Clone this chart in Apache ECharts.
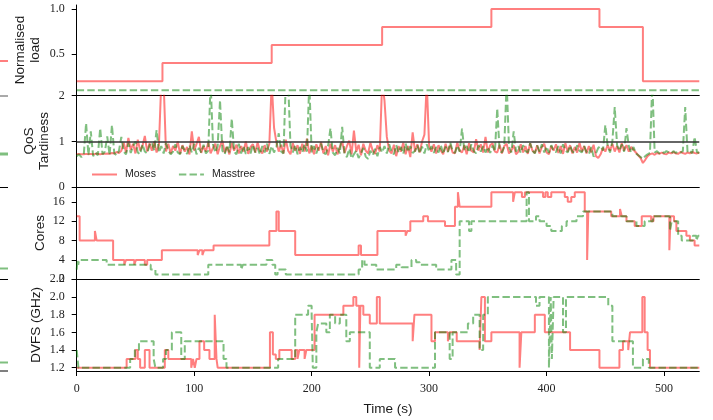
<!DOCTYPE html>
<html>
<head>
<meta charset="utf-8">
<title>Moses vs Masstree</title>
<script src="https://cdn.jsdelivr.net/npm/echarts@6.0.0/dist/echarts.min.js"></script>
<style>
  html, body { margin: 0; padding: 0; background: #fff; }
  #chart { width: 713px; height: 420px; }
</style>
</head>
<body>
<div id="chart"></div>
<script>
// time axis (s)
const timeMax = 530;
const timeTicks = [0, 100, 200, 300, 400, 500];

// normalised load, [t, value] steps
const mosesLoad = [[0, 0.2], [73, 0.4], [166, 0.6], [260, 0.8], [353, 1.0], [445, 0.8], [482, 0.2], [530, 0.2]];
const masstreeLoad = [[0, 0.1], [530, 0.1]];
const loadTicks = [0.5, 1.0];

// QoS tardiness, one sample every qosStep seconds
const qosStep = 2;
const mosesQos = [
  0.72, 0.73, 0.72, 0.72, 0.73, 0.72, 0.73, 0.72, 0.73, 0.73, 0.72, 0.73, 0.73, 0.74, 0.73, 0.75,
  0.74, 0.77, 0.75, 0.8, 0.98, 0.76, 1.08, 0.82, 0.95, 0.74, 1.04, 0.8, 0.9, 1.12, 0.78, 0.96, 0.8, 1.0, 0.76, 0.92,
  2.3, 2.3,
  0.78, 0.95, 0.74, 0.9, 0.8, 1.0, 0.73, 0.92, 0.78, 0.88, 0.72, 1.22, 0.8, 0.94, 1.1, 0.75, 0.9, 0.78, 0.98, 0.74,
  0.86, 0.95, 0.72, 0.9, 1.02, 0.76, 0.88, 0.72, 0.96, 0.8, 0.93, 0.74, 0.9, 0.78, 1.0, 0.73, 0.88, 0.94, 0.76, 0.98,
  0.8, 0.74, 0.92, 0.78, 0.95,
  2.3, 1.3,
  0.98, 0.78, 0.93, 0.74, 1.04, 0.8, 0.72, 0.96, 0.8, 0.92, 0.73, 0.95, 0.78, 1.06, 0.74, 0.9, 0.72, 0.94, 0.8, 0.99,
  0.74, 0.9, 0.7, 0.95, 0.78, 0.92, 0.72, 0.88, 1.0, 0.75, 0.9, 1.02, 0.72, 1.24, 0.78, 0.93, 0.7, 0.95, 0.8, 0.74,
  0.97, 0.8, 0.73, 0.92, 0.78,
  2.3, 1.9, 1.1,
  0.8, 0.74, 0.93, 0.68, 0.9, 0.78, 0.97, 0.72, 0.9, 0.66, 1.2, 0.78, 0.94, 0.76,
  1.0, 1.15, 2.3, 0.9,
  0.78, 0.94, 0.74, 0.92, 0.8, 0.72, 0.95, 0.78, 0.93, 0.76, 0.74, 0.98, 0.8, 0.76, 0.92, 0.72, 0.96, 0.8, 0.76, 1.05,
  0.8, 0.94, 0.76, 1.1, 0.76, 0.92,
  0.96, 0.78, 0.76, 0.93, 0.74, 0.9, 0.95, 0.74, 0.8, 0.92, 0.72, 0.78, 0.94, 0.76, 0.9, 0.73, 0.96, 0.8, 0.75, 0.92,
  0.74, 0.88, 0.95, 0.76, 0.72, 0.9, 0.8, 0.94, 0.75, 0.9, 0.73, 0.96, 0.78, 0.92, 0.74, 0.88, 0.76, 0.97, 0.78, 0.9,
  0.74, 0.9, 0.76, 0.93,
  0.68, 0.64, 0.72, 0.86, 0.78, 0.92, 0.8, 0.95, 0.78, 0.9, 0.76, 0.96, 0.8, 0.92, 0.78, 0.88, 0.82, 0.76, 0.7, 0.64,
  0.53, 0.6, 0.68, 0.72, 0.74, 0.71, 0.75, 0.73, 0.76, 0.73, 0.72, 0.76, 0.74, 0.77, 0.74, 0.73, 0.77, 0.75, 0.73, 0.76,
  0.74, 0.77, 0.75, 0.74, 0.76
];
const masstreeQos = [
  0.68, 0.72, 0.66, 0.71, 1.4, 0.7, 1.22, 0.68, 0.76, 0.7, 1.29, 0.72, 0.78, 1.11, 0.7, 1.36, 0.74, 0.7, 0.8, 1.1,
  0.78, 0.72, 0.96, 0.75, 0.9, 1.0, 0.76, 0.72, 0.94, 0.78, 0.74, 0.92, 0.98, 0.8, 1.25, 0.76,
  0.9, 0.74, 0.96, 0.8, 0.72, 0.78, 0.94, 0.76, 0.72, 0.9, 0.8, 0.73, 0.92, 0.76, 0.95, 0.72, 0.86, 0.76, 0.93, 0.74,
  0.8, 2.3, 0.94, 0.76, 0.9, 1.9, 0.8, 0.72, 0.92, 0.76, 1.5, 0.78, 0.72, 0.95, 0.74, 0.9, 0.73, 0.88, 0.74, 0.93,
  0.76, 0.86, 0.72, 0.9, 0.76, 0.95, 0.73, 0.9, 0.76, 0.88, 1.18, 0.78, 0.74,
  2.3, 2.3, 0.9, 0.76, 0.92, 0.72, 0.88, 0.76, 0.94, 0.78, 2.3, 0.76,
  0.9, 0.74, 0.88, 0.95, 0.76, 0.72, 0.9, 1.29, 0.76, 0.7, 0.86, 0.74, 1.32, 0.72, 0.66, 0.84, 0.63, 0.72, 0.8, 0.64,
  0.74, 0.86, 0.67, 0.62, 0.8, 0.7, 0.84, 0.68, 0.88,
  0.76, 0.9, 0.74, 0.94, 0.78, 0.72, 0.92, 0.76, 0.88, 0.73, 0.96, 0.77, 0.9, 0.75, 0.8, 0.92, 0.74, 0.89, 0.74, 0.94,
  0.78, 0.9, 0.75, 0.88, 0.76, 0.92, 0.73, 0.89, 0.77, 0.98, 0.79, 0.75, 0.91, 0.78, 1.28, 0.8,
  0.9, 0.76, 0.94, 0.79, 0.74, 0.92, 0.78, 0.9, 0.76, 0.88, 0.75, 0.91, 0.78,
  1.72, 0.8, 0.76, 0.9, 2.3, 0.88, 0.76, 1.22,
  0.78, 0.9, 0.75, 0.92, 0.79, 0.76, 0.96, 0.8, 0.74, 0.91, 0.78, 0.94, 0.76, 0.89, 0.75, 0.92, 0.79, 0.77, 0.9, 0.74,
  0.94, 0.8, 0.76, 0.91, 0.78, 0.75, 0.92, 0.8, 0.76, 0.9, 0.77, 0.72, 0.88, 0.67, 0.74, 0.86, 0.9,
  0.8, 1.36, 0.9, 0.76, 1.0, 1.75, 0.92, 0.8, 0.94, 0.78, 1.29, 0.9, 0.76, 0.88, 0.74, 0.7, 0.66,
  0.62, 0.68, 0.72, 0.75, 2.3, 0.76, 0.79, 0.74, 0.78, 0.75, 0.79, 0.76, 0.74, 0.79, 0.75, 0.78, 0.76, 0.79, 1.75, 0.76,
  0.79, 0.74, 1.1, 0.77, 0.75
];
const qosTicks = [0, 1, 2];

// cores, [t, value] steps
const mosesCores = [
  [0, 13], [2.5, 8], [15.5, 10], [17, 8], [31, 4], [40.5, 3], [42, 4], [49, 3], [50.5, 4], [58, 3], [60, 4],
  [72.5, 6], [103, 5], [104.5, 6], [107, 5], [108.5, 6], [116.5, 7], [164, 10], [170, 14], [172, 10], [186, 5],
  [240, 7], [242, 5], [256, 10], [280, 9], [281.5, 10], [284, 12], [295, 13], [299, 12], [313.5, 11], [322, 15],
  [324.5, 18], [326, 15], [353, 18], [371.5, 16], [373, 18], [379, 17], [381.5, 18], [397, 17], [399, 18], [401, 17],
  [404, 18], [415.5, 17], [418, 16], [421, 17], [424, 18], [432.5, 14], [434.5, 4], [435.5, 14], [455, 13],
  [462.5, 14.5], [464, 13], [468, 12], [475, 11], [481, 13], [489, 12], [491, 13], [504.5, 6], [505.5, 13],
  [508.5, 12], [510.5, 10], [519, 9], [522, 8], [526, 7], [530, 7]
];
const masstreeCores = [
  [0, 2], [0.7, 4], [1.3, 3], [2, 4], [25.5, 3], [63, 2], [67, 1], [112, 3], [140, 2], [141.5, 3], [161.5, 4],
  [166.5, 3], [169, 1], [171, 2], [178, 1], [240, 2], [243, 4], [245, 3], [255, 2], [272, 3], [276.5, 2.5], [285, 4],
  [289, 3.5], [292, 3], [306, 2], [319, 4], [323, 1], [326, 12], [334, 10], [336, 12], [383, 18], [385, 12],
  [391, 13], [394, 12], [400, 11], [404, 10], [413, 11], [417, 12], [425.5, 13], [431, 14], [456, 13], [468, 12],
  [476.5, 11], [483.5, 12], [490.5, 13], [505, 10], [506.5, 12], [512, 9], [515, 8], [524.5, 9], [527.5, 8],
  [529, 9], [530, 9]
];
const coreTicks = [0, 4, 8, 12, 16];

// DVFS frequency (GHz), [t, value] steps
const mosesDvfs = [
  [0, 1.2], [42.5, 1.3], [50, 1.4], [52, 1.3], [54, 1.2], [58, 1.4], [62, 1.2], [75, 1.4], [78, 1.3], [97.5, 1.2],
  [99, 1.3], [100.5, 1.2], [102, 1.3], [104.5, 1.5], [108.5, 1.4], [113, 1.3], [117.5, 1.8], [119, 1.3], [120, 1.2],
  [164.5, 1.6], [167, 1.35], [169.5, 1.3], [172.5, 1.4], [183, 1.3], [186, 1.4], [188, 1.3], [189.5, 1.4], [194, 1.3],
  [195.5, 1.4], [202.5, 1.8], [227, 1.9], [235.5, 2.0], [238, 1.9], [240.5, 1.2], [241.5, 1.9], [244, 1.8],
  [249.5, 1.7], [255.5, 2.0], [258, 1.7], [286, 1.5], [287.5, 1.8], [302, 1.5], [305, 1.6], [316, 1.5], [317.5, 1.6],
  [323.5, 1.5], [343, 1.4], [344.5, 2.0], [347.5, 1.5], [353, 1.6], [377, 1.2], [378.5, 1.6], [390, 1.8],
  [398.5, 1.6], [420, 1.4], [445, 1.2], [462, 1.4], [465, 1.5], [469.5, 1.4], [471, 1.6], [481.5, 2.0], [483.5, 1.6],
  [486, 1.4], [488, 1.2], [530, 1.2]
];
const masstreeDvfs = [
  [0, 1.4], [1.5, 1.2], [45.5, 1.3], [49.5, 1.4], [53, 1.5], [65.5, 1.3], [67, 1.2], [73.5, 1.3], [76, 1.4],
  [81, 1.6], [89, 1.3], [92, 1.5], [125, 1.3], [127.5, 1.2], [171.5, 1.3], [186, 1.8], [197, 1.9], [200, 1.8],
  [201, 1.2], [204, 1.6], [205.5, 1.7], [212.5, 1.6], [215.5, 1.8], [220, 1.7], [224, 1.8], [229.5, 1.5],
  [232.5, 1.6], [249.5, 1.2], [258, 1.3], [271, 1.2], [305, 1.6], [317.5, 1.3], [320, 1.6], [333, 1.7],
  [337.5, 1.8], [343, 1.4], [346, 1.8], [350, 2.0], [391, 1.9], [394, 2.0], [402, 1.2], [403.5, 2.0], [404.5, 1.3],
  [406, 2.0], [414, 1.6], [416.5, 2.0], [452.5, 1.9], [456, 1.5], [473.5, 1.2], [482, 1.3], [487, 1.2], [530, 1.2]
];
const dvfsTicks = [1.2, 1.4, 1.6, 1.8, 2.0, 2.2];

const RED = "rgba(255, 0, 0, 0.5)";
const GREEN = "rgba(0, 128, 0, 0.5)";
const SERIF = "Liberation Serif";
const SANS = "Liberation Sans";

var chart = echarts.init(document.getElementById("chart"), null, { renderer: "canvas" });

// panel boxes, top to bottom
var grids = [
  { left: 76.7, width: 622.6, top: 5, height: 90.7 },
  { left: 76.7, width: 622.6, top: 95.7, height: 91.6 },
  { left: 76.7, width: 622.6, top: 187.3, height: 92 },
  { left: 76.7, width: 622.6, top: 279.3, height: 91.7 },
];

// y titles, drawn as rotated text: [text, centre x, centre y]
var yTitles = [
  ["Normalised\nload", 28, 50],
  ["QoS\nTardiness", 37, 141],
  ["Cores", 40.5, 233],
  ["DVFS (GHz)", 36.5, 325],
];

function xAxisFor(idx) {
  var last = idx === 3;
  return {
    type: "value",
    gridIndex: idx,
    min: 0,
    max: timeMax,
    name: last ? "Time (s)" : "",
    nameLocation: "middle",
    nameGap: 31,
    nameTextStyle: { fontFamily: SANS, fontSize: 13.5, color: "#1a1a1a" },
    axisLine: { show: true, onZero: false, lineStyle: { color: "#000", width: 1 } },
    axisTick: { show: last, length: 5, customValues: timeTicks, lineStyle: { color: "#000" } },
    axisLabel: {
      show: last,
      customValues: timeTicks,
      margin: 12,
      fontFamily: SERIF,
      fontSize: 12,
      color: "#222",
    },
    splitLine: { show: false },
  };
}

function yAxisFor(idx, min, max, ticks, digits) {
  return {
    type: "value",
    gridIndex: idx,
    min: min,
    max: max,
    axisLine: { show: true, onZero: false, lineStyle: { color: "#000", width: 1 } },
    axisTick: { show: true, length: 5, customValues: ticks, lineStyle: { color: "#000" } },
    axisLabel: {
      customValues: ticks,
      margin: 12,
      fontFamily: SERIF,
      fontSize: 12,
      color: "#222",
      formatter: function (v) {
        return v.toFixed(digits);
      },
    },
    splitLine: { show: false },
  };
}

function line(name, idx, data, dashed, step) {
  return {
    name: name,
    type: "line",
    xAxisIndex: idx,
    yAxisIndex: idx,
    data: data,
    step: step ? "end" : false,
    symbol: "none",
    animation: false,
    lineStyle: {
      color: dashed ? GREEN : RED,
      width: 2,
      type: dashed ? [7.4, 3.2] : "solid",
    },
    itemStyle: { color: dashed ? GREEN : RED },
  };
}

function toPairs(values) {
  var out = [];
  values.forEach(function (v, i) {
    out.push([i * qosStep, v]);
  });
  return out;
}

var qosMasstree = line("Masstree", 1, toPairs(masstreeQos), true, false);
// the reference line at tardiness 1
qosMasstree.markLine = {
  silent: true,
  symbol: "none",
  label: { show: false },
  lineStyle: { color: "#333", width: 1.5, type: "solid" },
  data: [{ yAxis: 1 }],
};

// small stubs cut from a neighbouring figure on the left edge
var stubs = [
  [61, RED, 2], [96, "#555", 1], [154, GREEN, 3], [187.5, "#000", 1],
  [268.5, GREEN, 2], [279.5, "#000", 1], [362.5, GREEN, 2], [371, "#000", 1],
];

var graphics = stubs.map(function (s) {
  return {
    type: "line",
    shape: { x1: 0, y1: s[0], x2: 8, y2: s[0] },
    style: { stroke: s[1], lineWidth: s[2] },
  };
});
yTitles.forEach(function (t) {
  graphics.push({
    type: "text",
    x: t[1],
    y: t[2],
    rotation: Math.PI / 2,
    style: {
      text: t[0],
      fill: "#1a1a1a",
      font: "13.5px " + SANS,
      lineHeight: 15,
      align: "center",
      verticalAlign: "middle",
    },
  });
});

var option = {
  backgroundColor: "#fff",
  animation: false,
  grid: grids,
  xAxis: [xAxisFor(0), xAxisFor(1), xAxisFor(2), xAxisFor(3)],
  yAxis: [
    yAxisFor(0, 0.039, 1.044, loadTicks, 1),
    yAxisFor(1, 0, 2, qosTicks, 0),
    yAxisFor(2, 0, 19, coreTicks, 0),
    yAxisFor(3, 1.163, 2.2, dvfsTicks, 1),
  ],
  legend: {
    data: ["Moses", "Masstree"],
    left: 86,
    top: 164,
    itemWidth: 25,
    itemHeight: 12,
    itemGap: 22,
    itemStyle: { opacity: 0 },
    textStyle: { fontFamily: SANS, fontSize: 10.5, color: "#222", padding: [0, 0, 0, 3] },
  },
  graphic: graphics,
  series: [
    line("Moses", 0, mosesLoad, false, true),
    line("Masstree", 0, masstreeLoad, true, true),
    line("Moses", 1, toPairs(mosesQos), false, false),
    qosMasstree,
    line("Moses", 2, mosesCores, false, true),
    line("Masstree", 2, masstreeCores, true, true),
    line("Moses", 3, mosesDvfs, false, true),
    line("Masstree", 3, masstreeDvfs, true, true),
  ],
};

chart.setOption(option);
</script>
</body>
</html>
